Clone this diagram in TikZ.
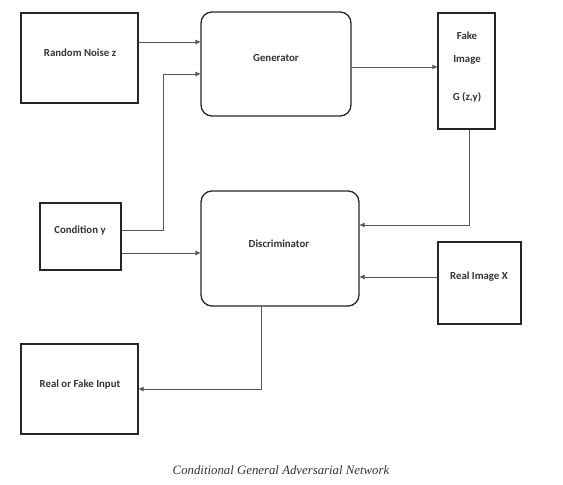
\documentclass[tikz,border=0pt]{standalone}
\usepackage{fontspec}
\setmainfont{Liberation Serif}
\newfontfamily\boxfont{Carlito}
\usetikzlibrary{arrows.meta,calc}
\begin{document}
\begin{tikzpicture}[x=1pt,y=-1pt,
  box/.style={draw=black!85,line width=1.3pt,minimum width=#1,inner sep=0pt},
  lbl/.style={font=\boxfont\bfseries\fontsize{10.8}{12}\selectfont,text=black!80,inner sep=0pt},
  conn/.style={draw=black!65,line width=0.8pt},
  arr/.style={conn,-{Triangle[length=5pt,width=4.5pt]}}]
\useasboundingbox (0,0) rectangle (563,485);
% boxes
\node[box=117pt,minimum height=90pt] (rn) at (79.5,58) {};
\node[box=150pt,minimum height=104pt,rounded corners=11pt] (gen) at (276,64) {};
\node[box=57pt,minimum height=116pt] (fake) at (466.5,71) {};
\node[box=81pt,minimum height=67pt] (cond) at (80.5,236.5) {};
\node[box=158pt,minimum height=115pt,rounded corners=11pt] (disc) at (280,248.5) {};
\node[box=83pt,minimum height=82pt] (real) at (479.5,283) {};
\node[box=117pt,minimum height=90pt] (rof) at (79.5,389) {};
% texts
\node[lbl] (trn) at (80,53) {Random Noise z};
\node[lbl] (tgen) at (276,58) {Generator};
\node[lbl] (tf1) at (467,36) {Fake};
\node[lbl] (tf2) at (467,60) {Image};
\node[lbl] (tf3) at (467,97) {G (z,y)};
\node[lbl] (tcond) at (80,231) {Condition y};
\node[lbl] (tdisc) at (279,244) {Discriminator};
\node[lbl] (treal) at (479,277) {Real Image X};
\node[lbl] (trof) at (80,385) {Real or Fake Input};
\node[font=\itshape\fontsize{12.8}{15}\selectfont,text=black!80] (cap) at (281,470) {Conditional General Adversarial Network};
% helper coordinates
\coordinate (bend) at (163,74);
% connectors
\draw[arr] (rn.east |- 0,42) -- (gen.west |- 0,42);
\draw[conn] (cond.east |- 0,230) -| (bend);
\draw[arr] (bend) -- (gen.west |- bend);
\draw[arr] (cond.east |- 0,253) -- (disc.west |- 0,253);
\draw[arr] (gen.east |- 0,67) -- (fake.west |- 0,67);
\draw[arr] (fake.south -| 469,0) |- (disc.east |- 0,225);
\draw[arr] (real.west |- 0,277) -- (disc.east |- 0,277);
\draw[arr] (disc.south -| 261,0) |- (rof.east |- 0,389);
\end{tikzpicture}
\end{document}
